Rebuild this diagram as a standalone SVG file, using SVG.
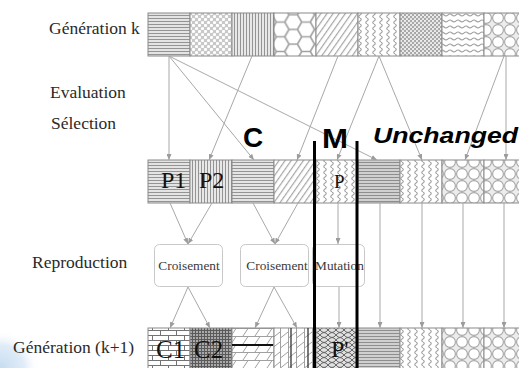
<svg xmlns="http://www.w3.org/2000/svg" width="519" height="368" viewBox="0 0 519 368">
<style>
.lbl{font-family:"Liberation Serif","Times New Roman",serif;font-size:17.5px;fill:#2a2a2a}
.box{fill:#fff;stroke:#c8c8c8;stroke-width:1}
.btxt{font-family:"Liberation Serif","Times New Roman",serif;font-size:13.3px;fill:#3a3a3a;text-anchor:middle}
.cell{stroke:#8a8a8a;stroke-width:1}
.ctxt{font-family:"Liberation Serif","Times New Roman",serif;font-size:24px;fill:#111}
.big{font-family:"Liberation Sans",Arial,sans-serif;font-weight:bold;fill:#000}
.con{stroke:#a8a8a8;stroke-width:1;fill:none;marker-end:url(#ah)}
.bar{stroke:#000;stroke-width:3}
</style>
<defs>
<marker id="ah" markerWidth="6" markerHeight="5" refX="6" refY="2.5" orient="auto" markerUnits="userSpaceOnUse">
<path d="M0,0 L6,2.5 L0,5 z" fill="#9c9c9c"/>
</marker>
<radialGradient id="glow" cx="0" cy="1" r="1">
<stop offset="0" stop-color="#c6dcf1" stop-opacity="1"/>
<stop offset="0.6" stop-color="#d8e7f6" stop-opacity="0.8"/>
<stop offset="1" stop-color="#ffffff" stop-opacity="0"/>
</radialGradient>
<pattern id="hl" width="6" height="3" patternUnits="userSpaceOnUse">
<rect width="6" height="3" fill="#e4e4e4"/>
<line x1="0" y1="0.5" x2="6" y2="0.5" stroke="#949494" stroke-width="1"/>
</pattern>
<pattern id="hl2" width="6" height="3" patternUnits="userSpaceOnUse">
<rect width="6" height="3" fill="#d0d0d0"/>
<line x1="0" y1="0.5" x2="6" y2="0.5" stroke="#8e8e8e" stroke-width="1"/>
</pattern>
<pattern id="vl" width="3" height="6" patternUnits="userSpaceOnUse">
<rect width="3" height="6" fill="#e8e8e8"/>
<line x1="0.5" y1="0" x2="0.5" y2="6" stroke="#949494" stroke-width="1"/>
</pattern>
<pattern id="dots" width="6" height="6" patternUnits="userSpaceOnUse">
<rect width="6" height="6" fill="#c8c8c8"/>
<circle cx="1.5" cy="1.5" r="1.6" fill="#fff"/>
<circle cx="4.5" cy="4.5" r="1.6" fill="#fff"/>
</pattern>
<pattern id="hex" width="25.5" height="14.72" patternUnits="userSpaceOnUse">
<rect width="25.5" height="14.72" fill="#fff"/>
<path d="M4.25,7.36 L8.5,0 L17,0 L21.25,7.36 L17,14.72 L8.5,14.72 Z M0,7.36 H4.25 M21.25,7.36 H25.5" fill="none" stroke="#a0a0a0" stroke-width="1.6"/>
</pattern>
<pattern id="dg" width="5" height="5" patternUnits="userSpaceOnUse" patternTransform="rotate(35)">
<rect width="5" height="5" fill="#fff"/>
<line x1="0.6" y1="0" x2="0.6" y2="5" stroke="#a6a6a6" stroke-width="1.2"/>
</pattern>
<pattern id="wv" width="7" height="6" patternUnits="userSpaceOnUse">
<rect width="7" height="6" fill="#fff"/>
<path d="M3,0 Q5.5,1.5 3,3 Q0.5,4.5 3,6" fill="none" stroke="#a0a0a0" stroke-width="1.1"/>
</pattern>
<pattern id="ck" width="4" height="4" patternUnits="userSpaceOnUse">
<rect width="4" height="4" fill="#a8a8a8"/>
<circle cx="1" cy="1" r="1.1" fill="#f2f2f2"/>
<circle cx="3" cy="3" r="1.1" fill="#f2f2f2"/>
</pattern>
<pattern id="wh" width="8" height="6" patternUnits="userSpaceOnUse">
<rect width="8" height="6" fill="#fff"/>
<path d="M0,3 Q2,1 4,3 T8,3" fill="none" stroke="#a0a0a0" stroke-width="1.1"/>
</pattern>
<pattern id="ci" width="12" height="12" patternUnits="userSpaceOnUse">
<rect width="12" height="12" fill="#ececec"/>
<circle cx="6" cy="6" r="5.4" fill="#fff" stroke="#a6a6a6" stroke-width="1.1"/>
</pattern>
<pattern id="brick" width="16" height="10" patternUnits="userSpaceOnUse">
<rect width="16" height="10" fill="#fff"/>
<path d="M0,0.5 H16 M0,5.5 H16 M0.5,0 V5 M8.5,5 V10" fill="none" stroke="#737373" stroke-width="1"/>
</pattern>
<pattern id="grid" width="3" height="3" patternUnits="userSpaceOnUse">
<rect width="3" height="3" fill="#aaaaaa"/>
<path d="M0.5,0 V3 M0,0.5 H3" stroke="#5a5a5a" stroke-width="1"/>
</pattern>
<pattern id="slb" width="12" height="8" patternUnits="userSpaceOnUse">
<rect width="12" height="8" fill="#fff"/>
<path d="M0,0.5 H12 M3,8 L8,0.5" fill="none" stroke="#a0a0a0" stroke-width="1"/>
</pattern>
<pattern id="vd" width="8" height="10" patternUnits="userSpaceOnUse">
<rect width="8" height="10" fill="#fff"/>
<path d="M0.5,0 V10 M0.5,8 L8,2" fill="none" stroke="#a0a0a0" stroke-width="1"/>
</pattern>
<pattern id="net" width="8" height="5" patternUnits="userSpaceOnUse">
<rect width="8" height="5" fill="#e0e0e0"/>
<path d="M0,0 Q4,5 8,0 M0,5 Q4,0 8,5" fill="none" stroke="#666" stroke-width="1"/>
</pattern>
</defs>

<rect x="0" y="330" width="40" height="38" fill="url(#glow)"/>

<g id="labels">
<text class="lbl" x="49" y="34">Génération k</text>
<text class="lbl" x="50" y="98">Evaluation</text>
<text class="lbl" x="51" y="129">Sélection</text>
<text class="lbl" x="32" y="268">Reproduction</text>
<text class="lbl" x="13" y="353">Génération (k+1)</text>
</g>

<g id="generation-k">
<g id="gk1"><rect class="cell" x="148" y="13" width="42" height="43" fill="url(#hl)"/></g>
<g id="gk2"><rect class="cell" x="190" y="13" width="42" height="43" fill="url(#dots)"/></g>
<g id="gk3"><rect class="cell" x="232" y="13" width="42" height="43" fill="url(#vl)"/></g>
<g id="gk4"><rect class="cell" x="274" y="13" width="42" height="43" fill="url(#hex)"/></g>
<g id="gk5"><rect class="cell" x="316" y="13" width="42" height="43" fill="url(#dg)"/></g>
<g id="gk6"><rect class="cell" x="358" y="13" width="42" height="43" fill="url(#wv)"/></g>
<g id="gk7"><rect class="cell" x="400" y="13" width="42" height="43" fill="url(#ck)"/></g>
<g id="gk8"><rect class="cell" x="442" y="13" width="42" height="43" fill="url(#wh)"/></g>
<g id="gk9"><rect class="cell" x="484" y="13" width="42" height="43" fill="url(#ci)"/></g>
</g>

<g id="selection">
<g id="s1"><rect class="cell" x="148" y="160" width="42" height="43" fill="url(#hl)"/><text class="ctxt" x="161" y="188">P1</text></g>
<g id="s2"><rect class="cell" x="190" y="160" width="42" height="43" fill="url(#vl)"/><text class="ctxt" x="199" y="188">P2</text></g>
<g id="s3"><rect class="cell" x="232" y="160" width="42" height="43" fill="url(#hl)"/></g>
<g id="s4"><rect class="cell" x="274" y="160" width="42" height="43" fill="url(#dg)"/></g>
<g id="s5"><rect class="cell" x="316" y="160" width="42" height="43" fill="url(#wv)"/><text class="ctxt" x="334" y="188" style="font-size:19px">P</text></g>
<g id="s6"><rect class="cell" x="358" y="160" width="42" height="43" fill="url(#hl2)"/></g>
<g id="s7"><rect class="cell" x="400" y="160" width="42" height="43" fill="url(#wv)"/></g>
<g id="s8"><rect class="cell" x="442" y="160" width="42" height="43" fill="url(#ci)"/></g>
<g id="s9"><rect class="cell" x="484" y="160" width="42" height="43" fill="url(#ci)"/></g>
</g>

<g id="reproduction">
<g id="croisement1"><rect class="box" x="154.5" y="244.5" width="68" height="42" rx="5"/><text class="btxt" x="189" y="270">Croisement</text></g>
<g id="croisement2"><rect class="box" x="240.5" y="244.5" width="68" height="42" rx="5"/><text class="btxt" x="277" y="270">Croisement</text></g>
<g id="mutation"><rect class="box" x="312.5" y="244.5" width="52" height="42" rx="5"/><text class="btxt" x="339.5" y="270">Mutation</text></g>
</g>

<g id="generation-k1">
<g id="n1"><rect class="cell" x="148" y="328" width="42" height="43" fill="url(#brick)"/><text class="ctxt" x="156" y="358" style="font-size:25px">C1</text></g>
<g id="n2"><rect class="cell" x="190" y="328" width="42" height="43" fill="url(#grid)"/><text class="ctxt" x="194" y="358" style="font-size:25px">C2</text></g>
<g id="n3"><rect class="cell" x="232" y="328" width="42" height="43" fill="url(#slb)"/><line x1="232" y1="345" x2="273" y2="345" stroke="#111" stroke-width="1.8"/></g>
<g id="n4"><rect class="cell" x="274" y="328" width="42" height="43" fill="url(#vd)"/><path d="M291,328 V368 M308,328 V368" stroke="#333" stroke-width="1.3"/></g>
<g id="n5"><rect class="cell" x="316" y="328" width="42" height="43" fill="url(#net)"/><text class="ctxt" x="331" y="357">P'</text></g>
<g id="n6"><rect class="cell" x="358" y="328" width="42" height="43" fill="url(#hl2)"/></g>
<g id="n7"><rect class="cell" x="400" y="328" width="42" height="43" fill="url(#wv)"/></g>
<g id="n8"><rect class="cell" x="442" y="328" width="42" height="43" fill="url(#ci)"/></g>
<g id="n9"><rect class="cell" x="484" y="328" width="42" height="43" fill="url(#ci)"/></g>
</g>

<g id="connectors">
<path class="con" d="M169,56 L169,160"/>
<path class="con" d="M252,56 L209,160"/>
<path class="con" d="M169,56 L254,160"/>
<path class="con" d="M338,56 L297,160"/>
<path class="con" d="M379,56 L337,160"/>
<path class="con" d="M169,56 L377,160"/>
<path class="con" d="M379,56 L422,160"/>
<path class="con" d="M504,56 L465,160"/>
<path class="con" d="M506,56 L506,160"/>
<path class="con" d="M170,203 L188,244"/>
<path class="con" d="M212,203 L188,244"/>
<path class="con" d="M253,203 L275,244"/>
<path class="con" d="M298,203 L275,244"/>
<path class="con" d="M338,203 L338,244"/>
<path class="con" d="M380,203 L380,328"/>
<path class="con" d="M422,203 L422,328"/>
<path class="con" d="M463,203 L463,328"/>
<path class="con" d="M504,203 L504,328"/>
<path class="con" d="M188,287 L170,328"/>
<path class="con" d="M188,287 L210,328"/>
<path class="con" d="M274,287 L255,328"/>
<path class="con" d="M274,287 L297,328"/>
<path class="con" d="M339,287 L339,328"/>
</g>

<g id="annotations">
<line class="bar" x1="314.5" y1="141" x2="314.5" y2="368"/>
<line class="bar" x1="357" y1="141" x2="357" y2="368"/>
<text class="big" x="243" y="147" style="font-size:28px">C</text>
<text class="big" x="322" y="148" style="font-size:28px" textLength="26" lengthAdjust="spacingAndGlyphs">M</text>
<text class="big" x="373" y="143" style="font-size:22px;font-style:italic" textLength="145" lengthAdjust="spacingAndGlyphs">Unchanged</text>
</g>
</svg>
